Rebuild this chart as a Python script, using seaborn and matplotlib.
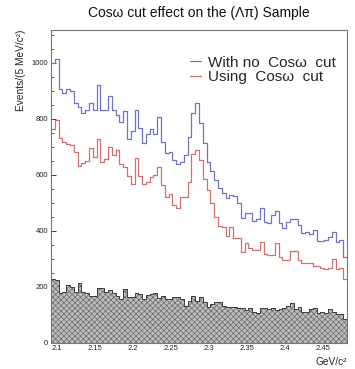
import numpy as np
import pandas as pd
import matplotlib
matplotlib.use("Agg")
import matplotlib.pyplot as plt
from matplotlib.ticker import MultipleLocator
from matplotlib.lines import Line2D
import seaborn as sns

# ---- data (events per 5 MeV/c^2 bin) ----
bin_start = 2.092
bin_width = 0.005

no_cut = [998, 1013, 906, 891, 908, 900, 858, 843, 821, 833,
          855, 831, 920, 833, 833, 882, 831, 813, 789, 829,
          726, 756, 833, 766, 714, 744, 762, 744, 805, 718,
          676, 682, 652, 638, 646, 670, 736, 819, 855, 784,
          712, 646, 614, 581, 551, 536, 516, 527, 524, 500,
          444, 464, 462, 436, 441, 482, 432, 429, 455, 471,
          429, 409, 432, 441, 441, 420, 391, 396, 388, 402,
          363, 364, 367, 376, 396, 358, 367, 307]

with_cut = [762, 795, 730, 718, 710, 706, 682, 631, 643, 650,
            694, 662, 727, 646, 655, 698, 670, 688, 638, 629,
            595, 567, 658, 595, 567, 575, 591, 600, 629, 563,
            521, 531, 492, 480, 521, 519, 575, 673, 690, 652,
            583, 545, 500, 450, 417, 412, 381, 414, 373, 373,
            325, 357, 337, 331, 331, 358, 317, 313, 313, 355,
            307, 295, 295, 329, 329, 295, 284, 286, 286, 274,
            274, 266, 262, 268, 298, 262, 266, 226]

background = [227, 224, 179, 182, 206, 198, 182, 212, 182, 179,
              167, 167, 194, 194, 182, 189, 177, 167, 155, 192,
              162, 162, 177, 174, 155, 171, 174, 179, 158, 167,
              155, 155, 165, 162, 155, 131, 150, 167, 150, 165,
              146, 129, 137, 144, 144, 132, 129, 129, 129, 125,
              123, 117, 123, 111, 105, 125, 125, 120, 123, 117,
              119, 125, 132, 140, 120, 128, 111, 111, 119, 123,
              105, 111, 105, 120, 111, 101, 101, 86]

x_ticks = [2.1, 2.15, 2.2, 2.25, 2.3, 2.35, 2.4, 2.45]
x_tick_labels = ["2.1", "2.15", "2.2", "2.25", "2.3", "2.35", "2.4", "2.45"]
y_ticks = [0, 200, 400, 600, 800, 1000]

title = "Cos\u03c9 cut effect on the (\u039b\u03c0) Sample"
legend_labels = ["With no  Cos\u03c9  cut", "Using  Cos\u03c9  cut"]

# ---- build table ----
n = len(no_cut)
edges = [float(bin_start + bin_width * i) for i in range(n + 1)]
centers = [0.5 * (edges[i] + edges[i + 1]) for i in range(n)]
df = pd.DataFrame({"mass": centers, "no_cut": no_cut,
                   "with_cut": with_cut, "bkg": background})

sns.set_theme(style="white")
plt.rcParams["font.family"] = ["Liberation Sans", "DejaVu Sans"]
plt.rcParams["hatch.linewidth"] = 0.5
plt.rcParams["hatch.color"] = "#6a6a6a"

fig = plt.figure(figsize=(3.55, 3.69), dpi=100)
ax = fig.add_axes([0.1437, 0.0713, 0.8338, 0.8474])

blue = "#7373c6"
red = "#d07070"

# background: dithered grey fill + dark outline
sns.histplot(data=df, x="mass", weights="bkg", bins=edges, element="step",
             fill=True, ax=ax, facecolor="#bcbcbc", edgecolor="#6a6a6a",
             linewidth=0.0, hatch="xxxxxx", alpha=1.0)
sns.histplot(data=df, x="mass", weights="bkg", bins=edges, element="step",
             fill=False, ax=ax, color="#3c3c3c", linewidth=0.7)
sns.histplot(data=df, x="mass", weights="no_cut", bins=edges, element="step",
             fill=False, ax=ax, color=blue, linewidth=0.9)
sns.histplot(data=df, x="mass", weights="with_cut", bins=edges, element="step",
             fill=False, ax=ax, color=red, linewidth=0.9)

ax.set_xlim(edges[0], edges[-1])
ax.set_ylim(0, 1117)

ax.set_xticks(x_ticks)
ax.set_xticklabels(x_tick_labels)
ax.set_yticks(y_ticks)
ax.xaxis.set_minor_locator(MultipleLocator(0.01))
ax.yaxis.set_minor_locator(MultipleLocator(50))
ax.tick_params(axis="both", which="both", direction="in", bottom=True,
               left=True, top=False, right=False, labelsize=5.5,
               colors="#222222", pad=2)
ax.tick_params(axis="both", which="major", length=3.5, width=0.6)
ax.tick_params(axis="both", which="minor", length=1.8, width=0.5)

for s in ax.spines.values():
    s.set_color("#777777")
    s.set_linewidth(0.8)

ax.set_title(title, fontsize=10, pad=9, color="#111111")
ax.set_ylabel("Events/(5 MeV/c\u00b2)", fontsize=7.3, loc="top", labelpad=4,
              color="#222222")
ax.set_xlabel("GeV/c\u00b2", fontsize=7.3, loc="right", labelpad=3,
              color="#222222")

handles = [Line2D([], [], color=blue, lw=0.9), Line2D([], [], color=red, lw=0.9)]
ax.legend(handles, legend_labels, loc="upper left",
          bbox_to_anchor=(0.47, 0.918), frameon=False, fontsize=11,
          handlelength=0.68, handletextpad=0.52, labelspacing=0.05,
          borderaxespad=0.0, borderpad=0.0)

fig.savefig("out.png", dpi=100)
